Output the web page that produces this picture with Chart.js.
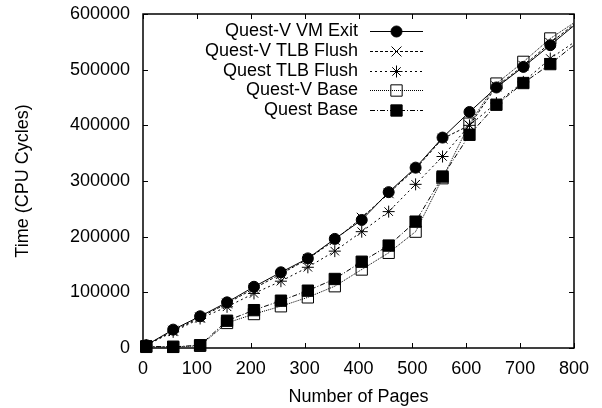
<!DOCTYPE html>
<html>
<head>
<meta charset="utf-8">
<script src="https://cdn.jsdelivr.net/npm/chart.js@4/dist/chart.umd.min.js"></script>
<style>
  body { margin: 0; background: #fff; }
</style>
</head>
<body>
<canvas id="chart" width="602" height="408"></canvas>
<script>
// number of pages per run (last one lies just past the axis and is clipped)
const pages = [6, 56, 106, 156, 206, 256, 306, 356, 406, 456, 506, 556, 606, 656, 706, 756, 806];

const questVVmExit = [5000, 33000, 57000, 82000, 110000, 136000, 161000, 196000, 230000, 280000, 324000, 378000, 424000, 468000, 505000, 544000, 584000];
const questVTlbFlush = [5000, 31000, 55000, 80000, 107000, 133000, 160000, 194000, 234000, 278000, 322000, 376000, 400000, 470000, 507000, 548000, 586000];
const questTlbFlush = [5000, 29000, 53000, 74000, 98000, 120000, 145000, 174000, 209000, 245000, 294000, 344000, 400000, 440000, 478000, 520000, 553000];
const questVBase = [2000, 2000, 4000, 45000, 61000, 75000, 91000, 111000, 141000, 171000, 209000, 305000, 403000, 475000, 514000, 556000, 588000];
const questBase = [3000, 2000, 5000, 49000, 68000, 85000, 103000, 124000, 155000, 184000, 227000, 308000, 383000, 437000, 476000, 510000, 549000];

const xTicks = [0, 100, 200, 300, 400, 500, 600, 700, 800];
const yTicks = [0, 100000, 200000, 300000, 400000, 500000, 600000];

const fontFam = "'Liberation Sans', Arial, Helvetica, sans-serif";

function pts(values) {
  return pages.map((p, i) => ({ x: p, y: values[i] }));
}

const clipBox = { left: 10, top: 10, right: 0, bottom: 10 };

const datasets = [
  {
    label: "Quest-V VM Exit",
    data: pts(questVVmExit),
    borderDash: [],
    pointStyle: "circle",
    radius: 5.5,
    pointBackgroundColor: "#000",
    order: 5,
  },
  {
    label: "Quest-V TLB Flush",
    data: pts(questVTlbFlush),
    borderDash: [3, 2],
    pointStyle: "crossRot",
    radius: 7,
    pointBackgroundColor: "#000",
    order: 4,
  },
  {
    label: "Quest TLB Flush",
    data: pts(questTlbFlush),
    borderDash: [2, 3],
    pointStyle: "star",
    radius: 6,
    pointBackgroundColor: "#000",
    order: 3,
  },
  {
    label: "Quest-V Base",
    data: pts(questVBase),
    borderDash: [1, 1],
    pointStyle: "rect",
    radius: 8,
    pointBackgroundColor: "rgba(0,0,0,0)",
    order: 2,
  },
  {
    label: "Quest Base",
    data: pts(questBase),
    borderDash: [5, 2, 1, 2],
    pointStyle: "rect",
    radius: 8,
    pointBackgroundColor: "#000",
    order: 1,
  },
].map((d) => Object.assign({
  borderColor: "#000",
  borderWidth: 1,
  pointBorderColor: "#000",
  pointBorderWidth: 1,
  // no marker for the point beyond the x range, only its line segment
  pointRadius: (c) => (c.raw && c.raw.x > 800 ? 0 : d.radius),
  pointHoverRadius: (c) => (c.raw && c.raw.x > 800 ? 0 : d.radius),
  tension: 0,
  clip: clipBox,
}, d));

// border box with inward ticks, gnuplot style
const frame = {
  id: "frame",
  beforeDatasetsDraw(chart) {
    const { ctx, chartArea: a, scales } = chart;
    const len = 5;
    ctx.save();
    ctx.strokeStyle = "#000";
    ctx.lineWidth = 1;
    ctx.beginPath();
    xTicks.forEach((t) => {
      const px = Math.round(scales.x.getPixelForValue(t)) + 0.5;
      ctx.moveTo(px, a.bottom);
      ctx.lineTo(px, a.bottom - len);
      ctx.moveTo(px, a.top);
      ctx.lineTo(px, a.top + len);
    });
    yTicks.forEach((t) => {
      const py = Math.round(scales.y.getPixelForValue(t)) + 0.5;
      ctx.moveTo(a.left, py);
      ctx.lineTo(a.left + len, py);
      ctx.moveTo(a.right, py);
      ctx.lineTo(a.right - len, py);
    });
    ctx.stroke();
    ctx.lineWidth = 1.5;
    ctx.strokeRect(Math.round(a.left), Math.round(a.top), Math.round(a.right - a.left), Math.round(a.bottom - a.top));
    ctx.restore();
  },
  afterDatasetsDraw(chart) {
    // key, top right inside the plot
    const { ctx } = chart;
    const textRight = 358, lineL = 370, lineR = 423, mark = 396.5;
    ctx.save();
    ctx.font = "18px " + fontFam;
    ctx.textAlign = "right";
    ctx.textBaseline = "middle";
    chart.data.datasets.forEach((ds, i) => {
      const y = 31 + i * 19.8;
      ctx.fillStyle = "#000";
      ctx.fillText(ds.label, textRight, y);
      ctx.strokeStyle = "#000";
      ctx.lineWidth = 1;
      ctx.setLineDash(ds.borderDash);
      ctx.beginPath();
      ctx.moveTo(lineL, Math.round(y) + 0.5);
      ctx.lineTo(lineR, Math.round(y) + 0.5);
      ctx.stroke();
      ctx.setLineDash([]);
      ctx.fillStyle = ds.pointBackgroundColor;
      Chart.helpers.drawPoint(ctx, {
        pointStyle: ds.pointStyle,
        radius: ds.radius,
        borderWidth: 1,
        rotation: 0,
      }, mark, Math.round(y) + 0.5);
    });
    ctx.restore();
  },
};

new Chart(document.getElementById("chart"), {
  type: "line",
  data: { datasets: datasets },
  plugins: [frame],
  options: {
    responsive: false,
    animation: false,
    events: [],
    layout: { padding: { left: 0, top: 14, right: 28, bottom: 0 } },
    plugins: { legend: { display: false }, tooltip: { enabled: false } },
    scales: {
      x: {
        type: "linear",
        min: 0,
        max: 800,
        afterBuildTicks: (s) => { s.ticks = xTicks.map((v) => ({ value: v })); },
        afterFit: (s) => { s.height = 60; s.paddingLeft = 0; s.paddingRight = 0; },
        grid: { display: false, drawTicks: false },
        border: { display: false },
        ticks: {
          padding: 10,
          color: "#000",
          font: { family: fontFam, size: 18 },
          callback: (v) => String(v),
        },
        title: {
          display: true,
          text: "Number of Pages",
          color: "#000",
          font: { family: fontFam, size: 18 },
          padding: { top: 0, bottom: 0 },
        },
      },
      y: {
        type: "linear",
        min: 0,
        max: 600000,
        afterBuildTicks: (s) => { s.ticks = yTicks.map((v) => ({ value: v })); },
        afterFit: (s) => { s.width = 143; s.paddingTop = 0; s.paddingBottom = 0; },
        grid: { display: false, drawTicks: false },
        border: { display: false },
        ticks: {
          padding: 13,
          color: "#000",
          font: { family: fontFam, size: 18 },
          callback: (v) => String(v),
        },
        title: {
          display: true,
          text: "Time (CPU Cycles)",
          color: "#000",
          font: { family: fontFam, size: 18 },
          padding: { top: 12, bottom: 0 },
        },
      },
    },
  },
});
</script>
</body>
</html>
